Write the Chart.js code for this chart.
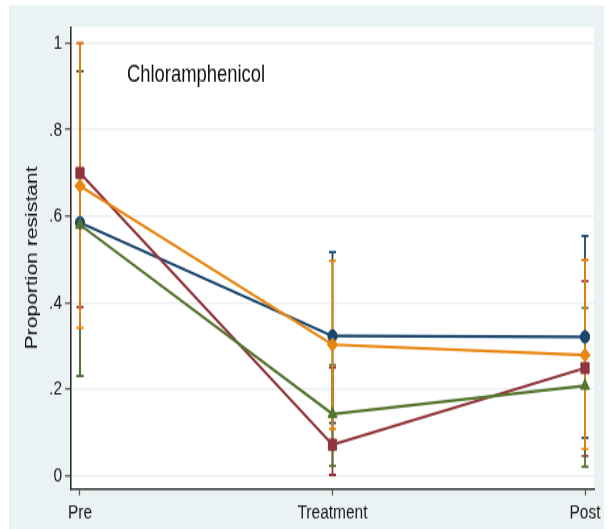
<!DOCTYPE html>
<html>
<head>
<meta charset="utf-8">
<script src="https://cdn.jsdelivr.net/npm/chart.js@4.4.1/dist/chart.umd.min.js"></script>
<style>
  html, body { margin: 0; padding: 0; background: #fff; width: 608px; height: 529px; overflow: hidden; }
  #page { position: relative; width: 608px; height: 529px; }
  /* graph is drawn at 608x401 then stretched to full height */
  #wrap { position: absolute; left: 0; top: 0; width: 608px; height: 401px; transform: scaleY(1.3192); transform-origin: 0 0; }
</style>
</head>
<body>
<div id="page"><div id="wrap"><canvas id="chart" width="608" height="401"></canvas></div></div>
<script>
const periods = ['Pre', 'Treatment', 'Post'];
const yTickValues = [0, 0.2, 0.4, 0.6, 0.8, 1];
const yTickLabels = ['0', '.2', '.4', '.6', '.8', '1'];

// proportion resistant with lower / upper CI per period
const navyMean = [0.585, 0.323, 0.321];
const navyLow = [0.23, 0.122, 0.088];
const navyHigh = [0.935, 0.517, 0.554];

const maroonMean = [0.70, 0.072, 0.249];
const maroonLow = [0.39, 0.002, 0.046];
const maroonHigh = [1.0, 0.25, 0.45];

const greenMean = [0.58, 0.143, 0.208];
const greenLow = [0.23, 0.023, 0.021];
const greenHigh = [0.935, 0.256, 0.388];

const orangeMean = [0.67, 0.303, 0.279];
const orangeLow = [0.342, 0.108, 0.062];
const orangeHigh = [1.0, 0.497, 0.499];

const FONT = '"Liberation Sans", Arial, sans-serif';
const BG = '#eaf2f3';

const series = [
    { mean: navyMean, low: navyLow, high: navyHigh, color: '#1a476f', style: 'circle', r: 4.6, order: 3 },
    { mean: maroonMean, low: maroonLow, high: maroonHigh, color: '#90353b', style: 'rect', r: 5.8, order: 2 },
    { mean: greenMean, low: greenLow, high: greenHigh, color: '#55752f', style: 'triangle', r: 5.2, order: 1 },
    { mean: orangeMean, low: orangeLow, high: orangeHigh, color: '#e8860f', style: 'rectRot', r: 5.2, order: 0 }
];

const datasets = series.map(s => ({
    data: s.mean.map((v, i) => ({ x: i, y: v })),
    borderColor: s.color,
    backgroundColor: s.color,
    borderWidth: 2.2,
    pointStyle: s.style,
    pointRadius: s.r,
    pointBorderWidth: 1,
    tension: 0,
    order: s.order
}));

//fond gris + zone du graphe en blanc
const background = {
    id: 'background',
    beforeDraw(chart) {
        const { ctx, chartArea: a } = chart;
        ctx.save();
        ctx.fillStyle = '#fff';
        ctx.fillRect(0, 0, chart.width, chart.height);
        ctx.fillStyle = BG;
        ctx.fillRect(9, 4, 595, 397);
        ctx.fillStyle = '#fff';
        ctx.fillRect(a.left, a.top, a.right - a.left, a.bottom - a.top);
        ctx.restore();
    }
};

//barres d'erreur (IC) sous les marqueurs
const errorBars = {
    id: 'errorBars',
    beforeDatasetsDraw(chart) {
        const { ctx, scales: { x, y } } = chart;
        const cap = 3.5;
        series.forEach(s => {
            ctx.save();
            ctx.strokeStyle = s.color;
            ctx.lineWidth = 1.8;
            s.low.forEach((lo, i) => {
                const px = x.getPixelForValue(i);
                const yl = y.getPixelForValue(lo);
                const yh = y.getPixelForValue(s.high[i]);
                ctx.beginPath();
                ctx.moveTo(px, yl); ctx.lineTo(px, yh);
                ctx.moveTo(px - cap, yl); ctx.lineTo(px + cap, yl);
                ctx.moveTo(px - cap, yh); ctx.lineTo(px + cap, yh);
                ctx.stroke();
            });
            ctx.restore();
        });
    }
};

//titre dans la zone du graphe
const innerTitle = {
    id: 'innerTitle',
    afterDraw(chart) {
        const ctx = chart.ctx;
        ctx.save();
        ctx.font = '18.4px ' + FONT;
        ctx.fillStyle = '#111';
        ctx.textAlign = 'left';
        ctx.textBaseline = 'alphabetic';
        ctx.fillText('Chloramphenicol', 127, 62);
        ctx.restore();
    }
};

new Chart(document.getElementById('chart'), {
    type: 'line',
    data: { datasets },
    plugins: [background, errorBars, innerTitle],
    options: {
        responsive: false,
        animation: false,
        layout: { padding: { top: 20.5, right: 14, left: 0, bottom: 0 } },
        plugins: { legend: { display: false }, tooltip: { enabled: false } },
        scales: {
            x: {
                type: 'linear',
                min: -0.0356,
                max: 2.0356,
                afterBuildTicks: s => { s.ticks = periods.map((p, i) => ({ value: i })); },
                afterFit: s => { s.height = 30.5; },
                ticks: {
                    callback: v => periods[v],
                    font: { family: FONT, size: 15.5 },
                    color: '#1a1a1a',
                    padding: 4,
                    maxRotation: 0,
                    autoSkip: false
                },
                grid: { drawOnChartArea: false, tickLength: 5, tickColor: '#555', tickWidth: 1.3 },
                border: { color: '#333', width: 1.6 }
            },
            y: {
                min: -0.03,
                max: 1.037,
                afterBuildTicks: s => { s.ticks = yTickValues.map(v => ({ value: v })); },
                afterFit: s => { s.width = 71; },
                ticks: {
                    callback: (v, i) => yTickLabels[i],
                    font: { family: FONT, size: 15.5 },
                    color: '#1a1a1a',
                    padding: 3
                },
                grid: { color: BG, lineWidth: 1.5, tickLength: 6, tickColor: '#555', tickWidth: 1.3 },
                border: { color: '#333', width: 1.6 },
                title: {
                    display: true,
                    text: 'Proportion resistant',
                    font: { family: FONT, size: 16 },
                    color: '#111',
                    padding: { top: 23, bottom: 0 }
                }
            }
        }
    }
});
</script>
</body>
</html>
